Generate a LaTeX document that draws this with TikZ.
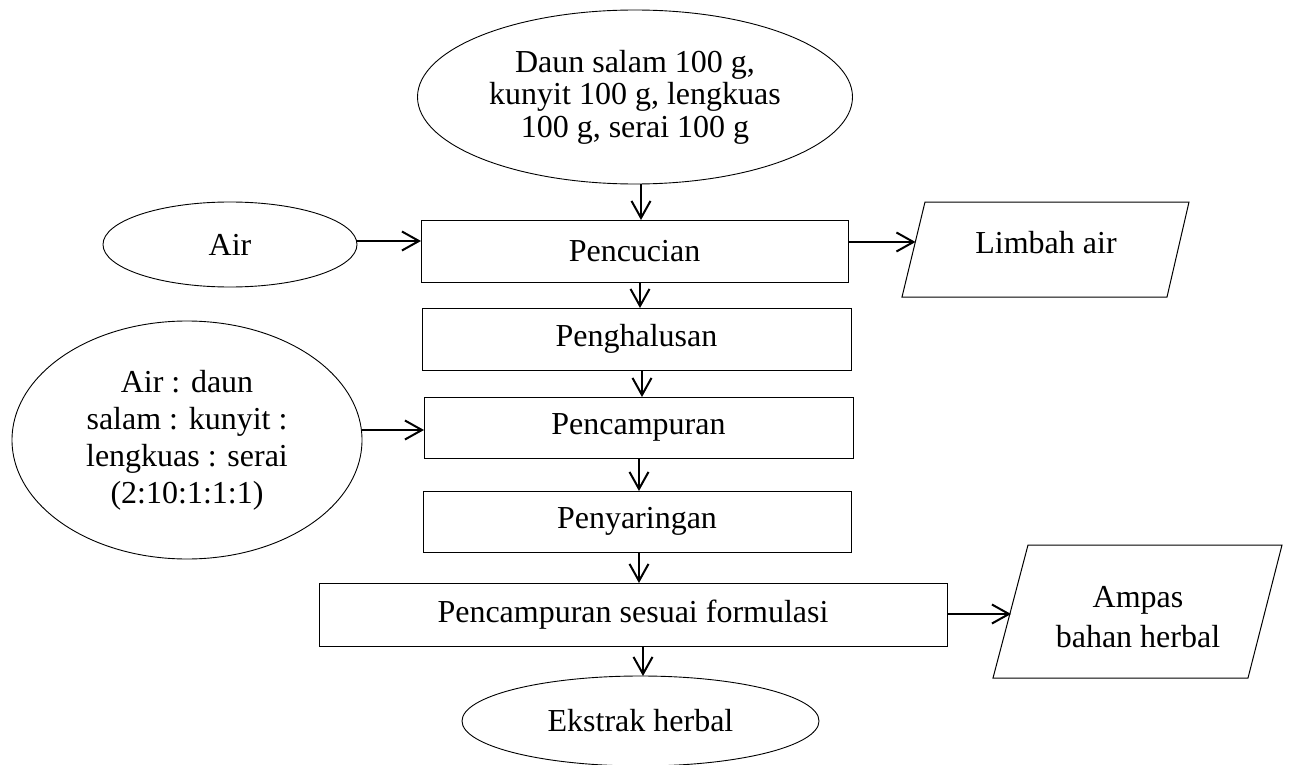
\documentclass[tikz,border=0pt]{standalone}
\usepackage{fontspec}
\setmainfont{Liberation Serif}
\usetikzlibrary{shapes.geometric,arrows.meta,calc}
\tikzset{
  txt/.style={font=\fontsize{32}{32.5}\selectfont, align=center},
  procbox/.style={draw=black, line width=1pt, rectangle, inner sep=0pt, outer sep=0pt, txt},
  ell/.style={draw=black, line width=0.9pt, ellipse, inner sep=0pt, outer sep=0pt, txt},
  para/.style={draw=black, line width=1pt, line join=miter},
  arr/.style={line width=2pt, -{Straight Barb[length=17pt,width=19pt,line width=2pt]}}
}
\begin{document}
\begin{tikzpicture}[x=1pt,y=-1pt]
\useasboundingbox (0,0) rectangle (1291,765);
% ellipses
\node[ell, minimum width=435pt, minimum height=174pt] (top) at (635,97)
  {Daun salam 100 g,\\kunyit 100 g, lengkuas\\100 g, serai 100 g};
\node[ell, minimum width=254pt, minimum height=85pt] (air) at (230,244.5) {Air};
\node[ell, minimum width=350pt, minimum height=238pt, font=\fontsize{32}{37}\selectfont] (mix) at (187,440)
  {Air : daun\\salam : kunyit :\\lengkuas : serai\\(2:10:1:1:1)};
\node[ell, minimum width=357pt, minimum height=90pt] (ekstrak) at (640.5,721) {Ekstrak herbal};
% process boxes
\node[procbox, minimum width=427pt, minimum height=62pt] (cuci) at (634.5,251) {Pencucian};
\node[procbox, minimum width=429pt, minimum height=62pt] (halus) at (636.5,339) {Penghalusan};
\node[procbox, minimum width=429pt, minimum height=61pt] (campur) at (638.5,427.5) {Pencampuran};
\node[procbox, minimum width=428pt, minimum height=61pt] (saring) at (637,521.5) {Penyaringan};
\node[procbox, minimum width=628pt, minimum height=63pt] (formula) at (633,614.5) {Pencampuran sesuai formulasi};
% parallelograms
\draw[para] (925,202) -- (1189,202) -- (1167,297) -- (902,297) -- cycle;
\node[txt] (limbah) at (1046,243) {Limbah air};
\draw[para] (1028,545) -- (1282,545) -- (1248,678) -- (993,678) -- cycle;
\node[txt, font=\fontsize{32}{40}\selectfont] (ampas) at (1138,617) {Ampas\\bahan herbal};
% connector end points
\coordinate (limbin) at (915.5,242);
\coordinate (ampin) at (1011,614);
\coordinate (c1) at ([xshift=6pt]top.south);
\coordinate (c2) at ([yshift=3.5pt]air.east);
\coordinate (c3) at ([xshift=5.5pt]cuci.south);
\coordinate (c4) at ([xshift=5.5pt]halus.south);
\coordinate (c5) at ([yshift=10pt]mix.east);
\coordinate (c6) at ([xshift=0.5pt]campur.south);
\coordinate (c7) at ([xshift=2pt]saring.south);
\coordinate (c8) at ([xshift=10pt]formula.south);
% connectors
\draw[arr] (c1) -- (c1 |- cuci.north);
\draw[arr] (c2) -- (c2 -| cuci.west);
\draw[arr] (limbin -| cuci.east) -- (limbin);
\draw[arr] (c3) -- (c3 |- halus.north);
\draw[arr] (c4) -- (c4 |- campur.north);
\draw[arr] (c5) -- (c5 -| campur.west);
\draw[arr] (c6) -- (c6 |- saring.north);
\draw[arr] (c7) -- (c7 |- formula.north);
\draw[arr] (ampin -| formula.east) -- (ampin);
\draw[arr] (c8) -- (c8 |- ekstrak.north);
\end{tikzpicture}
\end{document}
